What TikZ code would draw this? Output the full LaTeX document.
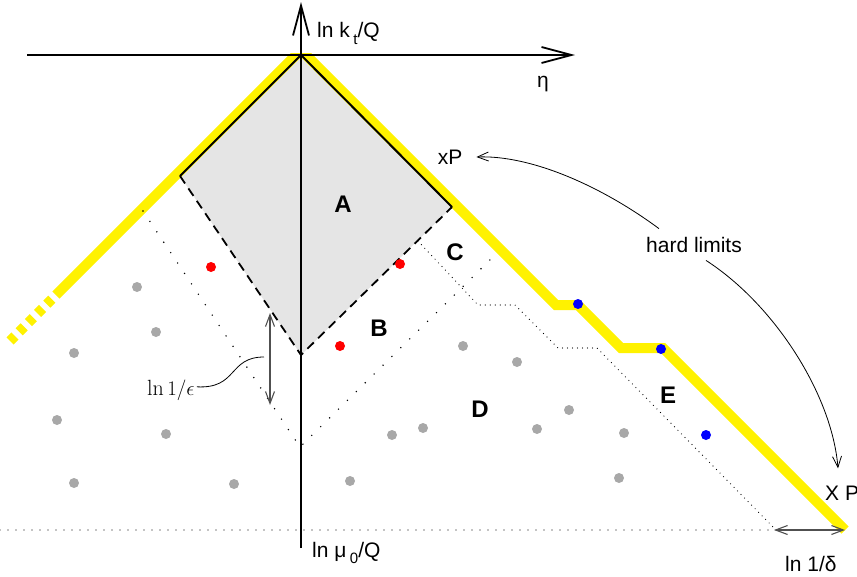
\documentclass[tikz,border=0pt]{standalone}
\usepackage{fontspec}
\setsansfont{Liberation Sans}
\usetikzlibrary{arrows.meta}
\definecolor{dotgray}{RGB}{168,168,168}
\definecolor{diagray}{RGB}{229,229,229}
\definecolor{arrgray}{RGB}{80,80,80}
\begin{document}
\begin{tikzpicture}[x=1pt,y=-1pt,
  lab/.style={font=\sffamily\fontsize{21}{25}\selectfont, inner sep=0pt},
  reg/.style={font=\sffamily\bfseries\fontsize{24}{28}\selectfont, inner sep=0pt},
  dotn/.style={circle, inner sep=0pt, minimum size=10pt},
  gdot/.style={dotn, fill=dotgray},
  rdot/.style={dotn, fill=red},
  bdot/.style={dotn, fill=blue},
  yel/.style={line width=10pt, yellow},
  axisline/.style={line width=1.8pt, -{Straight Barb[length=30pt,width=16pt,line width=1.8pt]}},
  edge/.style={line width=2pt},
  dashedge/.style={line width=1.8pt, dash pattern=on 9pt off 6pt},
  sparsedot/.style={line width=1.6pt, line cap=round, dash pattern=on 0pt off 12.5pt},
  densedot/.style={line width=1.2pt, line cap=round, dash pattern=on 0pt off 5pt},
  basedot/.style={line width=1.3pt, line cap=round, dash pattern=on 0pt off 8pt},
  garrow/.style={arrgray, line width=1.1pt, {Straight Barb[length=12pt,width=9pt]}-{Straight Barb[length=12pt,width=9pt]}},
  harrow/.style={line width=0.8pt, -{Straight Barb[length=11pt,width=9pt]}},
]
\useasboundingbox (0,0) rectangle (857,576);

% grey region A
\fill[diagray] (301,55) -- (452,207) -- (301,355) -- (180,176) -- cycle;

% yellow hard limits
\begin{scope}
\clip (0,53) rectangle (857,576);
\draw[yel] (299,52) -- (56,295);
\draw[yel, dash pattern=on 7pt off 6pt, dash phase=7pt] (56,295) -- (8,343);
\draw[yel, line join=miter] (303,52) -- (556,305) -- (578,305) -- (621,348) -- (663,348) -- (845,530);
\end{scope}

% edges of A
\draw[edge] (180,176) -- (301,55) -- (452,207);
\draw[dashedge] (180,176) -- (301,355) -- (452,207);

% dotted boundaries
\draw[sparsedot] (143,211) -- (300,447) -- (498,252);
\draw[densedot] (418,241) -- (478,305) -- (515,305) -- (558,348) -- (597,348) -- (776,530);
\draw[basedot] (0,530) -- (845,530);

% axes
\draw[axisline] (27,55) -- (575,55);
\draw[axisline] (301,548) -- (301,2);

% dots
\node[gdot] (g1) at (137,287) {};
\node[gdot] (g2) at (156,332) {};
\node[gdot] (g3) at (74,353) {};
\node[gdot] (g4) at (57,420) {};
\node[gdot] (g5) at (166,434) {};
\node[gdot] (g6) at (74,483) {};
\node[gdot] (g7) at (234,484) {};
\node[gdot] (g8) at (350,481) {};
\node[gdot] (g9) at (392,435) {};
\node[gdot] (g10) at (423,428) {};
\node[gdot] (g11) at (463,346) {};
\node[gdot] (g12) at (517,362) {};
\node[gdot] (g13) at (537,429) {};
\node[gdot] (g14) at (569,410) {};
\node[gdot] (g15) at (624,433) {};
\node[gdot] (g16) at (619,478) {};
\node[rdot] (r1) at (211,267) {};
\node[rdot] (r2) at (400,264) {};
\node[rdot] (r3) at (340,346) {};
\node[bdot] (b1) at (578,304) {};
\node[bdot] (b2) at (661,349) {};
\node[bdot] (b3) at (706,435) {};

% region labels
\node[reg] (A) at (343,204) {A};
\node[reg] (B) at (379,328) {B};
\node[reg] (C) at (455,252) {C};
\node[reg] (D) at (480,409) {D};
\node[reg] (E) at (668,395) {E};

% axis labels
\node[lab, anchor=base west] (kt) at (317,37) {ln k\,\raisebox{-7pt}{\fontsize{15}{15}\selectfont t}/Q};
\node[lab] (eta) at (543,84) {η};
\node[lab, anchor=base west] (mu) at (312,557) {ln μ\,\raisebox{-6pt}{\fontsize{15}{15}\selectfont 0}/Q};
\node[lab] (xP) at (450,157) {xP};
\node[lab] (hl) at (694,244.5) {hard limits};
\node[lab, anchor=base west] (XP) at (825,500) {X P};
\node[lab, anchor=base west] (del) at (785,571) {ln 1/δ};
\node[font=\fontsize{22}{26}\selectfont, inner sep=0pt, anchor=base west] (eps) at (147,395) {$\ln 1/\epsilon$};

% ln 1/epsilon arrow
\coordinate (et) at (270,313);
\coordinate (eb) at (270,405);
\draw[garrow] (et) -- (eb);
\coordinate (ec) at (264,357);
\draw[line width=0.8pt] ([xshift=2pt,yshift=3pt]eps.east) .. controls (238,389) and (228,357) .. (ec);

% ln 1/delta arrow
\coordinate (dl) at (774,530);
\coordinate (dr) at (845,530);
\draw[garrow] (dl) -- (dr);

% hard limits arrows
\draw[harrow] ([xshift=13pt,yshift=8pt]hl.north west) .. controls (600,185) and (530,155) .. ([xshift=14pt]xP.east);
\draw[harrow] ([xshift=12pt,yshift=-8pt]hl.south) .. controls (775,305) and (832,395) .. ([xshift=13pt,yshift=17pt]XP.north west);
\end{tikzpicture}
\end{document}
